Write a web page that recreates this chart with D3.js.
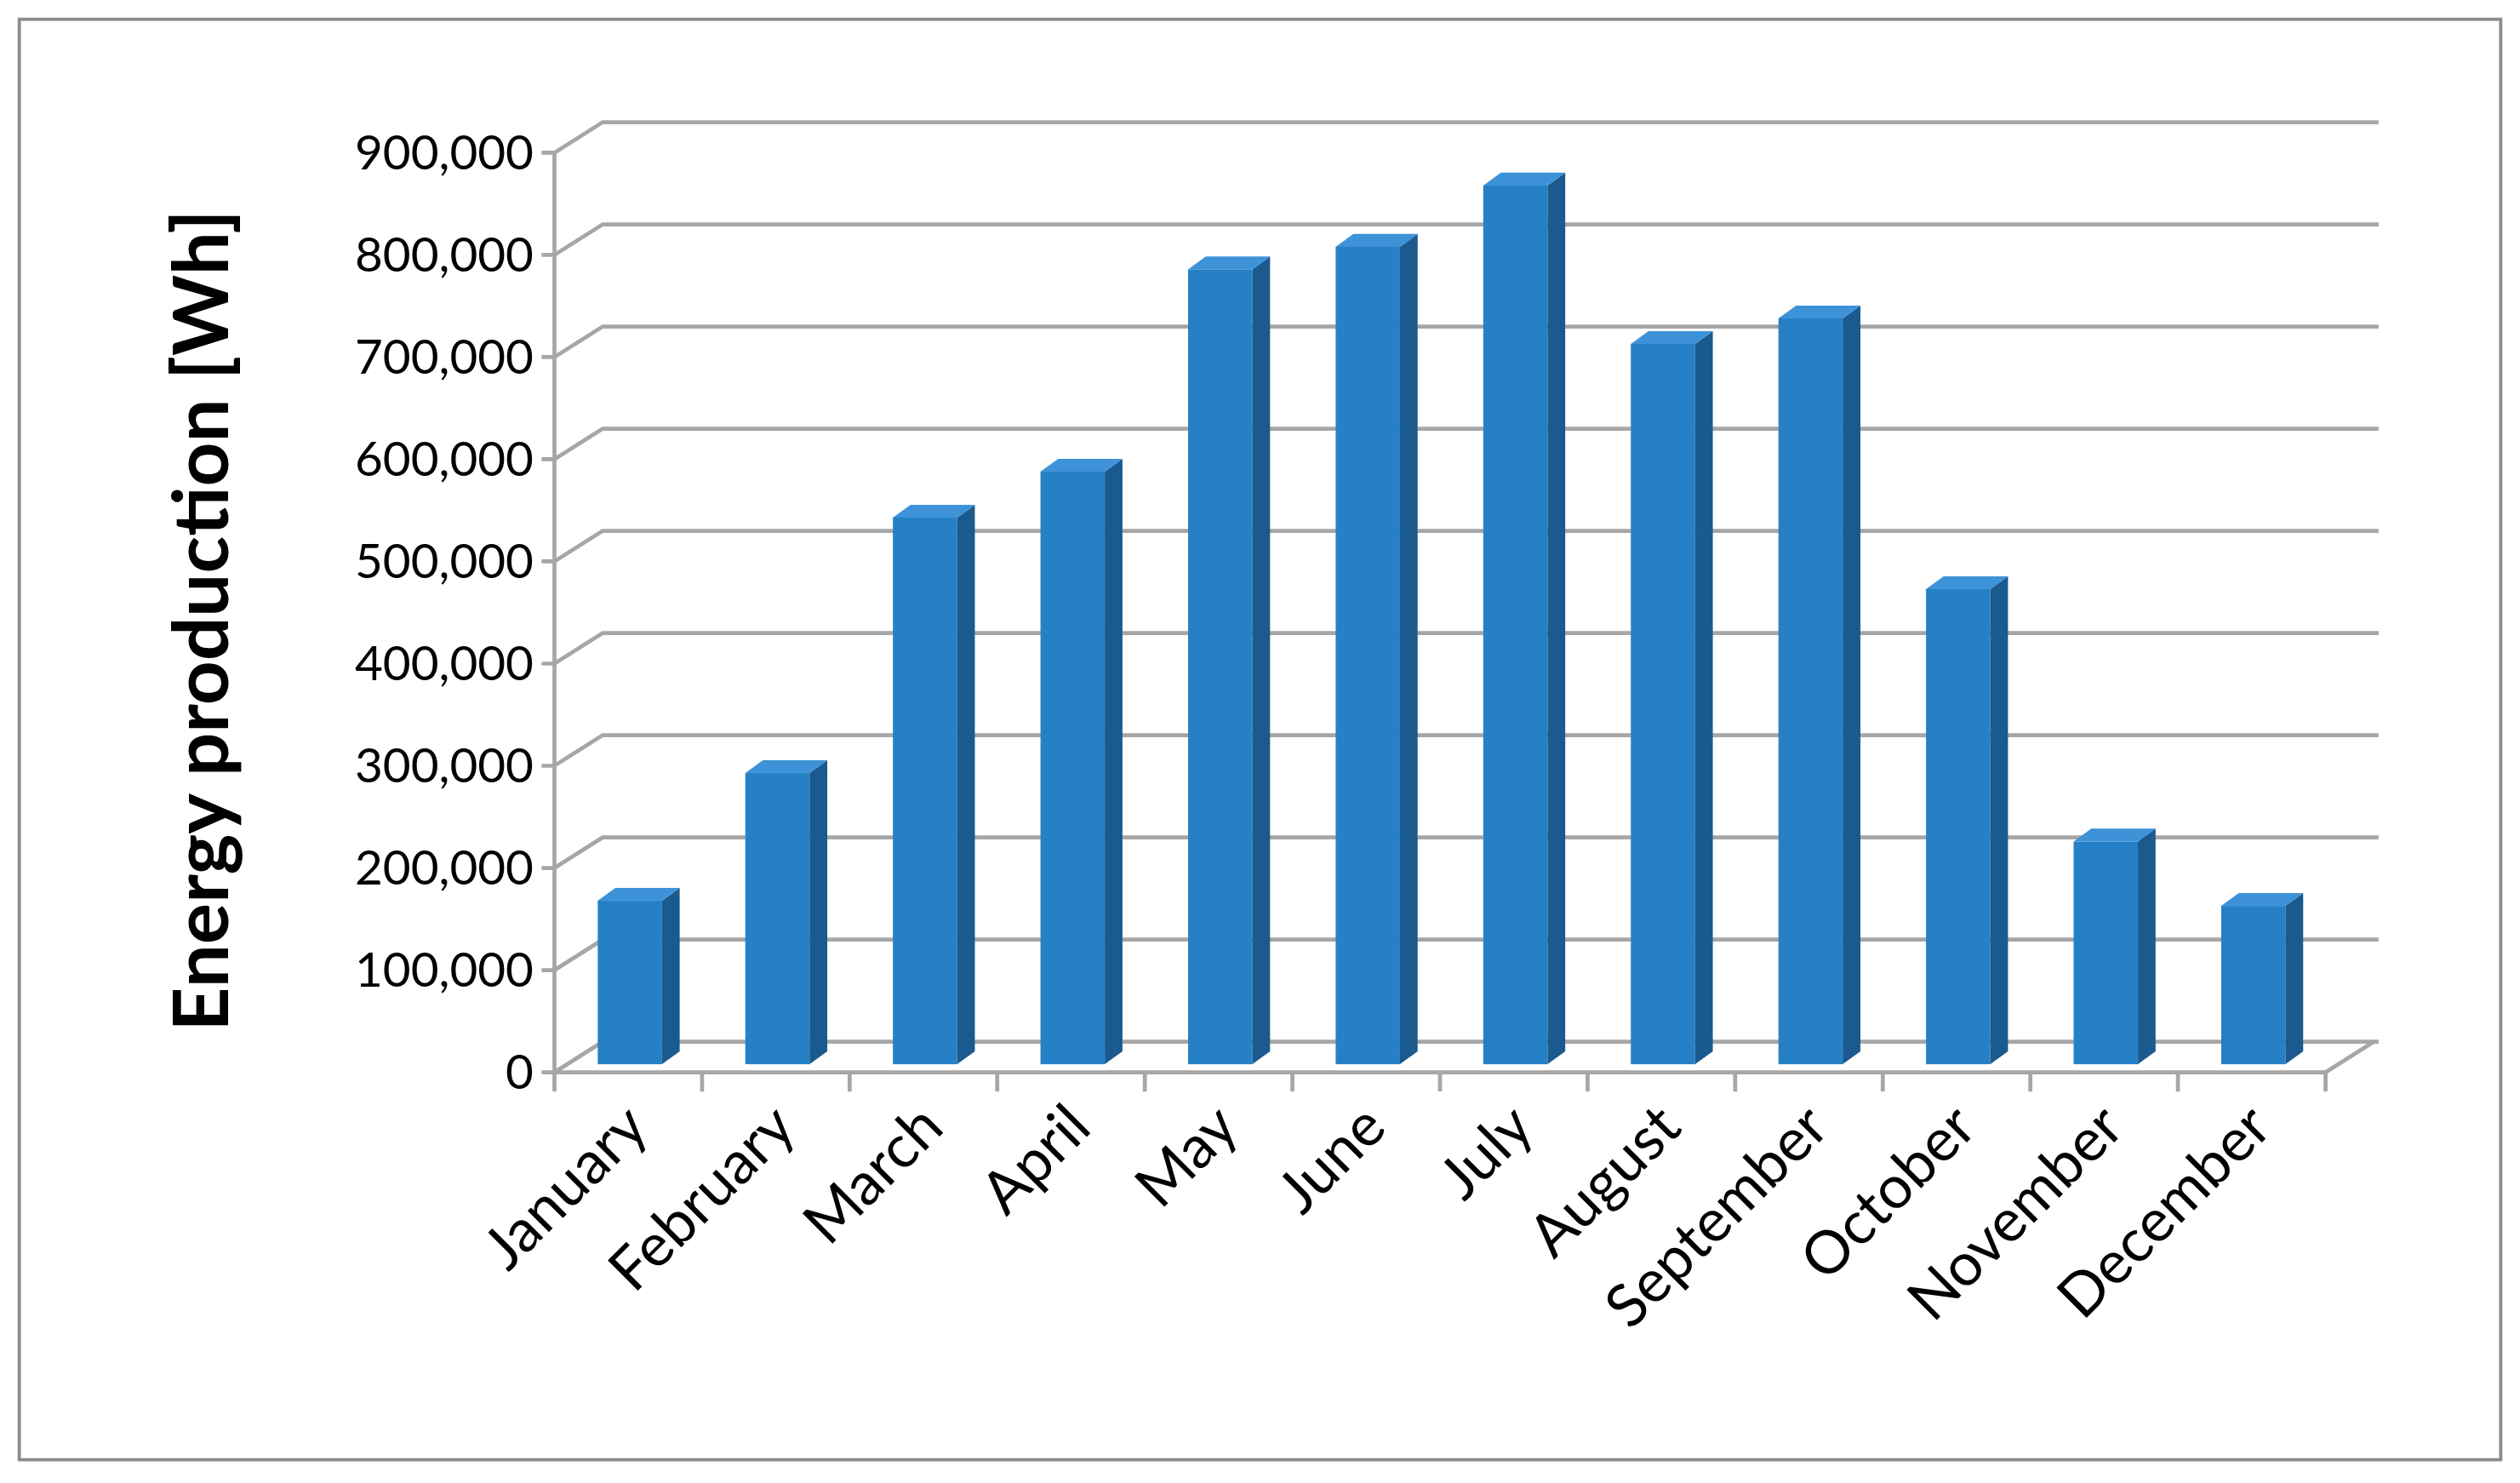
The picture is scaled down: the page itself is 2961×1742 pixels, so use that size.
<!DOCTYPE html>
<html>
<head>
<meta charset="utf-8">
<script src="https://cdn.jsdelivr.net/npm/d3@7"></script>
<style>
  body { margin: 0; background: #fff; }
  text { font-family: Lato, "Open Sans", sans-serif; fill: #000; }
</style>
</head>
<body>
<div id="chart"></div>
<script>
const months = ["January", "February", "March", "April", "May", "June",
  "July", "August", "September", "October", "November", "December"]
const energy = [160000, 285000, 535000, 580000, 778000, 800000,
  860000, 705000, 730000, 465000, 218000, 155000]
const yTicks = [0, 100000, 200000, 300000, 400000, 500000, 600000, 700000, 800000, 900000]

// drawn in a 1568-wide coordinate space, scaled up to the window
const W = 1568, H = 1742 / (2961 / 1568)
const depth = { dx: 30, dy: -19 }

let svg = d3.select("#chart").append("svg")
  .attr("width", 2961).attr("height", 1742)
  .attr("viewBox", `0 0 ${W} ${H}`)

svg.append("rect")
  .attr("x", 12).attr("y", 12).attr("width", 1544).attr("height", 896)
  .attr("fill", "none").attr("stroke", "#8c8c8c").attr("stroke-width", 2)

let x = d3.scaleBand().domain(months).range([345, 1447])
let y = d3.scaleLinear().domain([0, 900000]).range([667, 95])
const grid = "#a6a6a6"

// back wall grid with the diagonal from the front axis
let g = svg.append("g").attr("stroke", grid).attr("stroke-width", 2.5).attr("fill", "none")
yTicks.forEach(t => {
  g.append("path").attr("d",
    `M337,${y(t)} L345,${y(t)} L${345 + depth.dx},${y(t) + depth.dy} L1480,${y(t) + depth.dy}`)
})
// floor
g.append("path").attr("d",
  `M345,${y(0)} L1447,${y(0)} L${1447 + depth.dx},${y(0) + depth.dy}`)
g.append("line").attr("x1", 345).attr("x2", 345).attr("y1", y(900000)).attr("y2", y(0))
// category ticks
x.domain().concat([null]).forEach((m, i) => {
  let px = 345 + i * x.bandwidth()
  g.append("line").attr("x1", px).attr("x2", px).attr("y1", y(0)).attr("y2", y(0) + 12)
})

// bars
const bw = 40, bd = { dx: 11, dy: -8 }, off = { dx: 5, dy: -5 }
let bars = svg.append("g").selectAll("g").data(months).join("g")
bars.each(function(m, i) {
  let gb = d3.select(this)
  let x0 = x(m) + x.bandwidth() / 2 - bw / 2 - 4 + off.dx
  let yb = y(0) + off.dy
  let yt = y(energy[i]) + off.dy
  gb.append("rect").attr("x", x0).attr("y", yt).attr("width", bw).attr("height", yb - yt)
    .attr("fill", "#2680c6")
  gb.append("path").attr("fill", "#1a5a8f").attr("d",
    `M${x0 + bw},${yt} L${x0 + bw + bd.dx},${yt + bd.dy} L${x0 + bw + bd.dx},${yb + bd.dy} L${x0 + bw},${yb}Z`)
  gb.append("path").attr("fill", "#3d92d8").attr("d",
    `M${x0},${yt} L${x0 + bd.dx},${yt + bd.dy} L${x0 + bw + bd.dx},${yt + bd.dy} L${x0 + bw},${yt}Z`)
})

// y tick labels
let fmt = d3.format(",")
svg.append("g").selectAll("text").data(yTicks).join("text")
  .attr("x", 332).attr("y", d => y(d)).attr("dy", "0.35em")
  .attr("text-anchor", "end").attr("font-size", 30)
  .text(d => fmt(d))

// month labels
svg.append("g").selectAll("text").data(months).join("text")
  .attr("text-anchor", "end").attr("font-size", 37)
  .attr("transform", d => `translate(${x(d) + x.bandwidth() / 2 + 14},${y(0) + 36}) rotate(-45)`)
  .text(d => d)

svg.append("text")
  .attr("transform", `translate(142,${(95 + 667) / 2 + 5}) rotate(-90)`)
  .attr("text-anchor", "middle").attr("font-size", 48).attr("font-weight", "bold")
  .text("Energy production [Wh]")
</script>
</body>
</html>
